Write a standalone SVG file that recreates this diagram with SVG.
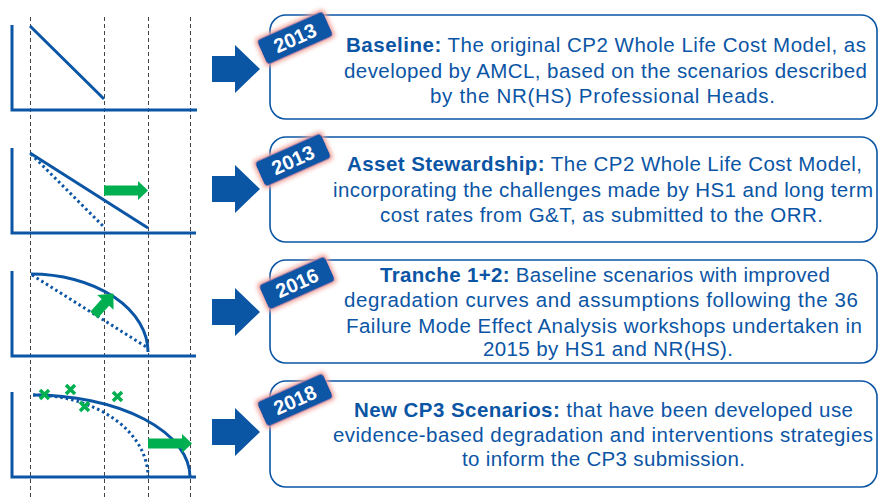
<svg xmlns="http://www.w3.org/2000/svg" width="879" height="498" viewBox="0 0 879 498">
<defs>
<style>
.ax{fill:none;stroke:#0B55A5;stroke-width:3}
.ln{fill:none;stroke:#0B55A5;stroke-width:3}
.dot{fill:none;stroke:#0B55A5;stroke-width:3;stroke-dasharray:2.5 3}
.dash{fill:none;stroke:#444;stroke-width:1;stroke-dasharray:4 3}
.grn{fill:#00B050}
.cross{stroke:#00B050;stroke-width:3.5;fill:none}
.box{fill:#fff;stroke:#0B55A5;stroke-width:1.6}
.tx{font-family:"Liberation Sans",Arial,sans-serif;font-size:20.5px;fill:#0B55A5}
.b{font-weight:bold}
.tag{fill:#0B55A5}
.tagt{font-family:"Liberation Sans",Arial,sans-serif;font-size:20px;font-weight:bold;fill:#fff;text-anchor:middle}
.barrow{fill:#0B55A5}
</style>
<filter id="glow" x="-30%" y="-60%" width="160%" height="220%">
<feMorphology in="SourceAlpha" operator="dilate" radius="2" result="d"/>
<feGaussianBlur in="d" stdDeviation="2.2" result="b"/>
<feFlood flood-color="#F0A39A" result="f"/>
<feComposite in="f" in2="b" operator="in" result="g"/>
<feMerge><feMergeNode in="g"/><feMergeNode in="SourceGraphic"/></feMerge>
</filter>
<path id="garrow" d="M0,-5 H34 V-9.5 L44,0 L34,9.5 V5 H0 Z"/>
<path id="barrowp" d="M0,-13 H23 V-24 L48,0 L23,24 V13 H0 Z"/>
</defs>

<g id="gridlines">
<line class="dash" x1="30.5" y1="17" x2="30.5" y2="498"/>
<line class="dash" x1="104.5" y1="17" x2="104.5" y2="498"/>
<line class="dash" x1="148.5" y1="17" x2="148.5" y2="498"/>
<line class="dash" x1="190.5" y1="17" x2="190.5" y2="498"/>
</g>

<g id="chart1">
<path class="ax" d="M12,25 V110 H197"/>
<path class="ln" d="M30,26 L104,99"/>
</g>

<g id="chart2">
<path class="ax" d="M12,148 V233 H196"/>
<path class="dot" d="M31,154 L104,227"/>
<path class="ln" d="M30,153 L148,228"/>
<use href="#garrow" class="grn" transform="translate(104,190.5)"/>
</g>

<g id="chart3">
<path class="ax" d="M12,271 V356 H196"/>
<path class="dot" d="M32,275 L148,348"/>
<path class="ln" d="M31,274 A117,78 0 0 1 148,352"/>
<path class="grn" transform="translate(94,315) rotate(-48)" d="M0,-5 H17 V-11 L29,0 L17,11 V5 H0 Z"/>
</g>

<g id="chart4">
<path class="ax" d="M12,392 V477 H196"/>
<path class="dot" d="M33,395 A115,82 0 0 1 148,477"/>
<path class="ln" d="M33,395 A157,82 0 0 1 190,477"/>
<path class="cross" d="M40,390 l9,9 M49,390 l-9,9"/>
<path class="cross" d="M66,385 l9,9 M75,385 l-9,9"/>
<path class="cross" d="M80,402 l9,9 M89,402 l-9,9"/>
<path class="cross" d="M113,392 l9,9 M122,392 l-9,9"/>
<use href="#garrow" class="grn" transform="translate(148,443.5)"/>
</g>

<g id="connectors">
<use href="#barrowp" class="barrow" transform="translate(212,69)"/>
<use href="#barrowp" class="barrow" transform="translate(212,189)"/>
<use href="#barrowp" class="barrow" transform="translate(212,312)"/>
<use href="#barrowp" class="barrow" transform="translate(212,432)"/>
</g>

<g id="box1">
<rect class="box" x="270" y="15" width="607" height="104" rx="16"/>
<text class="tx" x="346" y="52" textLength="520" lengthAdjust="spacing"><tspan class="b">Baseline:</tspan> The original CP2 Whole Life Cost Model, as</text>
<text class="tx" x="344" y="78" textLength="523" lengthAdjust="spacing">developed by AMCL, based on the scenarios described</text>
<text class="tx" x="430" y="103" textLength="345" lengthAdjust="spacing">by the NR(HS)  Professional Heads.</text>
<g transform="translate(295,38) rotate(-24)" filter="url(#glow)"><rect class="tag" x="-36" y="-13.5" width="72" height="27" rx="4"/></g>
<text class="tagt" transform="translate(295,38) rotate(-24)" y="7">2013</text>
</g>

<g id="box2">
<rect class="box" x="270" y="137" width="607" height="105" rx="16"/>
<text class="tx" x="347" y="171" textLength="515" lengthAdjust="spacing"><tspan class="b">Asset Stewardship:</tspan> The CP2 Whole Life Cost Model,</text>
<text class="tx" x="333" y="197" textLength="540" lengthAdjust="spacing">incorporating the challenges made by HS1 and long term</text>
<text class="tx" x="380" y="222" textLength="443" lengthAdjust="spacing">cost rates from G&amp;T, as submitted to the ORR.</text>
<g transform="translate(293,160) rotate(-24)" filter="url(#glow)"><rect class="tag" x="-36" y="-13.5" width="72" height="27" rx="4"/></g>
<text class="tagt" transform="translate(293,160) rotate(-24)" y="7">2013</text>
</g>

<g id="box3">
<rect class="box" x="270" y="260" width="607" height="103" rx="16"/>
<text class="tx" x="380" y="282" textLength="450" lengthAdjust="spacing"><tspan class="b">Tranche 1+2:</tspan> Baseline scenarios with improved</text>
<text class="tx" x="344" y="307" textLength="514" lengthAdjust="spacing">degradation curves and assumptions following the 36</text>
<text class="tx" x="346" y="333" textLength="516" lengthAdjust="spacing">Failure Mode Effect Analysis workshops undertaken in</text>
<text class="tx" x="483" y="356" textLength="250" lengthAdjust="spacing">2015 by HS1 and NR(HS).</text>
<g transform="translate(297,283) rotate(-24)" filter="url(#glow)"><rect class="tag" x="-36" y="-13.5" width="72" height="27" rx="4"/></g>
<text class="tagt" transform="translate(297,283) rotate(-24)" y="7">2016</text>
</g>

<g id="box4">
<rect class="box" x="270" y="381" width="607" height="106" rx="16"/>
<text class="tx" x="354" y="417" textLength="499" lengthAdjust="spacing"><tspan class="b">New CP3 Scenarios:</tspan> that have been developed use</text>
<text class="tx" x="333" y="442" textLength="540" lengthAdjust="spacing">evidence-based degradation and interventions strategies</text>
<text class="tx" x="462" y="466" textLength="283" lengthAdjust="spacing">to inform the CP3 submission.</text>
<g transform="translate(295,400) rotate(-24)" filter="url(#glow)"><rect class="tag" x="-36" y="-13.5" width="72" height="27" rx="4"/></g>
<text class="tagt" transform="translate(295,400) rotate(-24)" y="7">2018</text>
</g>
</svg>
